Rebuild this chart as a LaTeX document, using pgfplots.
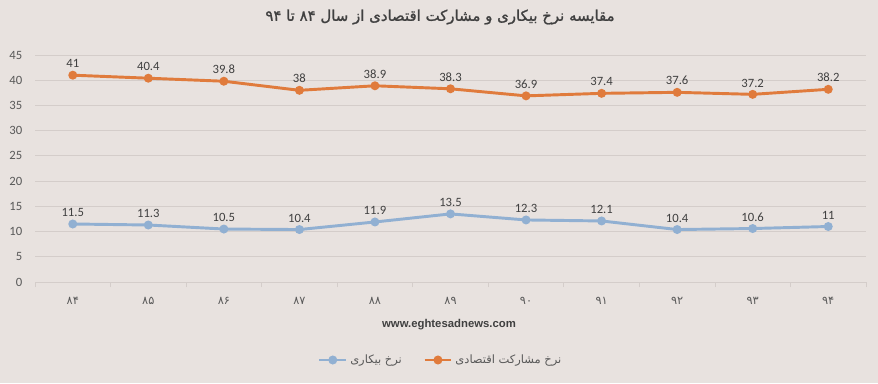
\documentclass[border=0pt]{standalone}
\usepackage{pgfplots}
\pgfplotsset{compat=1.18}
\usepackage{fontspec}
\setmainfont{Carlito}
\newfontfamily\arabicfont[Script=Arabic]{DejaVu Sans}
\newfontfamily\arabicbold[Script=Arabic,FakeBold=1.2]{DejaVu Sans}
\newfontfamily\webfont{Liberation Sans}
\TeXXeTstate=1
\definecolor{bgcol}{HTML}{E8E2DF}
\definecolor{gridcol}{HTML}{D4CDCA}
\definecolor{orangeln}{HTML}{E07B3C}
\definecolor{blueln}{HTML}{91B0D2}
\definecolor{txtcol}{HTML}{404040}
\definecolor{tickcol}{HTML}{595959}
\begin{document}
\begin{tikzpicture}
\fill[bgcol] (0pt,0pt) rectangle (658.5pt,287.25pt);
\useasboundingbox (0pt,0pt) rectangle (658.5pt,287.25pt);
\begin{axis}[
  /pgf/number format/assume math mode=true,
  at={(26.25pt,75.75pt)}, anchor=south west,
  scale only axis, width=623.25pt, height=170.25pt,
  xmin=-0.5, xmax=10.5, ymin=0, ymax=45,
  ytick={0,5,...,45},
  xtick={0,...,10},
  xticklabels={۸۴,۸۵,۸۶,۸۷,۸۸,۸۹,۹۰,۹۱,۹۲,۹۳,۹۴},
  x tick label style={font=\arabicfont\fontsize{8.5}{9}\selectfont, text=tickcol, yshift=-8pt},
  y tick label style={font=\fontsize{9.5}{11}\selectfont, text=tickcol, xshift=-6pt},
  major tick length=0pt,
  extra x ticks={-0.5,0.5,...,10.5},
  extra x tick labels={},
  extra x tick style={major tick length=4pt, tick align=outside, tick style={draw=gridcol, line width=0.6pt}, grid=none},
  ymajorgrids, grid style={draw=gridcol, line width=0.6pt},
  axis x line*=bottom, axis y line*=left,
  x axis line style={draw=gridcol, line width=0.6pt, -},
  y axis line style={draw=none},
  nodes near coords,
  every node near coord/.append style={font=\fontsize{9.5}{11}\selectfont, text=txtcol, yshift=1pt},
  legend columns=2,
  legend style={at={(0.4886,-0.3436)}, anchor=center, draw=none, fill=none,
    font=\arabicfont\fontsize{8.6}{9}\selectfont, text=tickcol,
    /tikz/every even column/.append style={column sep=14pt}},
  legend image code/.code={%
    \draw[#1, mark repeat=2, mark phase=2] plot coordinates {(0pt,0pt) (10pt,0pt) (20pt,0pt)};},
]
\addplot[blueln, line width=2.2pt, mark=*, mark size=2.2pt, mark options={fill=blueln, draw=blueln}] coordinates {
(0,11.5) (1,11.3) (2,10.5) (3,10.4) (4,11.9) (5,13.5) (6,12.3) (7,12.1) (8,10.4) (9,10.6) (10,11)};
\addlegendentry{\beginR نرخ بیکاری\endR}
\addplot[orangeln, line width=2.2pt, mark=*, mark size=2.2pt, mark options={fill=orangeln, draw=orangeln}] coordinates {
(0,41) (1,40.4) (2,39.8) (3,38) (4,38.9) (5,38.3) (6,36.9) (7,37.4) (8,37.6) (9,37.2) (10,38.2)};
\addlegendentry{\beginR نرخ مشارکت  اقتصادی\endR}
\end{axis}
\node[text=txtcol, font=\arabicbold\fontsize{11.2}{13}\selectfont] at (330pt,274.5pt) {\beginR مقایسه نرخ بیکاری و مشارکت اقتصادی از سال ۸۴ تا ۹۴\endR};
\node[text=txtcol, font=\webfont\bfseries\fontsize{8.5}{10}\selectfont] at (336.75pt,43.5pt) {www.eghtesadnews.com};
\end{tikzpicture}
\end{document}
